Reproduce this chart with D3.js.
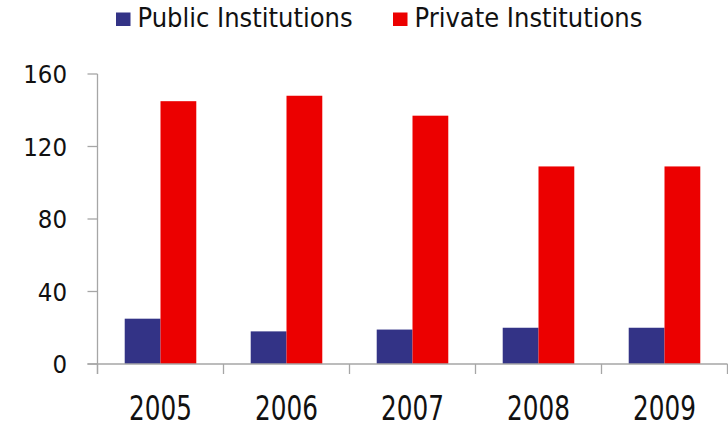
<!DOCTYPE html>
<html>
<head>
<meta charset="utf-8">
<script src="https://cdn.jsdelivr.net/npm/d3@7"></script>
<style>
  body { margin: 0; background: #fff; }
  svg text { font-family: "DejaVu Sans Condensed", "DejaVu Sans", sans-serif; fill: #111; }
</style>
</head>
<body>
<div id="chart"></div>
<script>
// データ
const years = ["2005", "2006", "2007", "2008", "2009"];
const seriesNames = ["Public Institutions", "Private Institutions"];
const publicValues = [25, 18, 19, 20, 20];
const privateValues = [145, 148, 137, 109, 109];
const yTicks = [0, 40, 80, 120, 160];
const colors = ["#333386", "#ec0000"];

const width = 728, height = 427;
const plotLeft = 97.5, plotRight = 727.5, plotTop = 74, plotBottom = 364;

const svg = d3.select("#chart")
    .append("svg")
    .attr("width", width)
    .attr("height", height);

// スケール
const x = d3.scaleBand()
    .domain(years)
    .range([plotLeft, plotRight])
    .paddingInner(0.432)
    .paddingOuter(0.216);

const x1 = d3.scaleBand()
    .domain(seriesNames)
    .range([0, x.bandwidth()]);

const y = d3.scaleLinear()
    .domain([0, 160])
    .range([plotBottom, plotTop]);

const rows = years.map((yr, i) => ({ year: yr, values: [publicValues[i], privateValues[i]] }));

// 棒グラフ
const groups = svg.selectAll("g.year")
    .data(rows)
    .enter()
    .append("g")
    .attr("class", "year")
    .attr("transform", d => `translate(${x(d.year)},0)`);

groups.selectAll("rect")
    .data(d => d.values.map((v, j) => ({ name: seriesNames[j], value: v, j: j })))
    .enter()
    .append("rect")
    .attr("x", d => x1(d.name))
    .attr("y", d => y(d.value))
    .attr("width", x1.bandwidth())
    .attr("height", d => plotBottom - y(d.value))
    .attr("fill", d => colors[d.j]);

// Y軸
const axisColor = "#a6a6a6";
svg.append("line")
    .attr("x1", plotLeft).attr("x2", plotLeft)
    .attr("y1", plotTop).attr("y2", plotBottom + 10)
    .attr("stroke", axisColor).attr("stroke-width", 1.3);

svg.selectAll("line.ytick")
    .data(yTicks)
    .enter()
    .append("line")
    .attr("class", "ytick")
    .attr("x1", plotLeft - 10).attr("x2", plotLeft)
    .attr("y1", d => y(d)).attr("y2", d => y(d))
    .attr("stroke", axisColor).attr("stroke-width", 1.3);

svg.selectAll("text.ylabel")
    .data(yTicks)
    .enter()
    .append("text")
    .attr("class", "ylabel")
    .attr("x", 67)
    .attr("y", d => y(d) + 9.3)
    .attr("text-anchor", "end")
    .style("font-size", "25.5px")
    .text(d => d);

// X軸
svg.append("line")
    .attr("x1", plotLeft - 10).attr("x2", plotRight)
    .attr("y1", plotBottom).attr("y2", plotBottom)
    .attr("stroke", axisColor).attr("stroke-width", 1.3);

const step = x.step();
const boundaries = d3.range(years.length + 1).map(i => plotLeft + i * step);
svg.selectAll("line.xtick")
    .data(boundaries)
    .enter()
    .append("line")
    .attr("class", "xtick")
    .attr("x1", d => d).attr("x2", d => d)
    .attr("y1", plotBottom).attr("y2", plotBottom + 10)
    .attr("stroke", axisColor).attr("stroke-width", 1.3);

// 縦長のフォントに合わせて少し縦に伸ばす
svg.selectAll("text.xlabel")
    .data(years)
    .enter()
    .append("text")
    .attr("class", "xlabel")
    .attr("transform", d => `translate(${x(d) + x.bandwidth() / 2},419.5) scale(1,1.2)`)
    .attr("text-anchor", "middle")
    .style("font-size", "27.5px")
    .text(d => d);

// 凡例
const legendX = [116, 393];
const legend = svg.selectAll("g.legend")
    .data(seriesNames)
    .enter()
    .append("g")
    .attr("class", "legend")
    .attr("transform", (d, i) => `translate(${legendX[i]},12.5)`);

legend.append("rect")
    .attr("width", 14.5).attr("height", 13.5)
    .attr("fill", (d, i) => colors[i]);

legend.append("text")
    .attr("x", 21.5)
    .attr("y", 14.2)
    .style("font-size", "27px")
    .text(d => d);
</script>
</body>
</html>
